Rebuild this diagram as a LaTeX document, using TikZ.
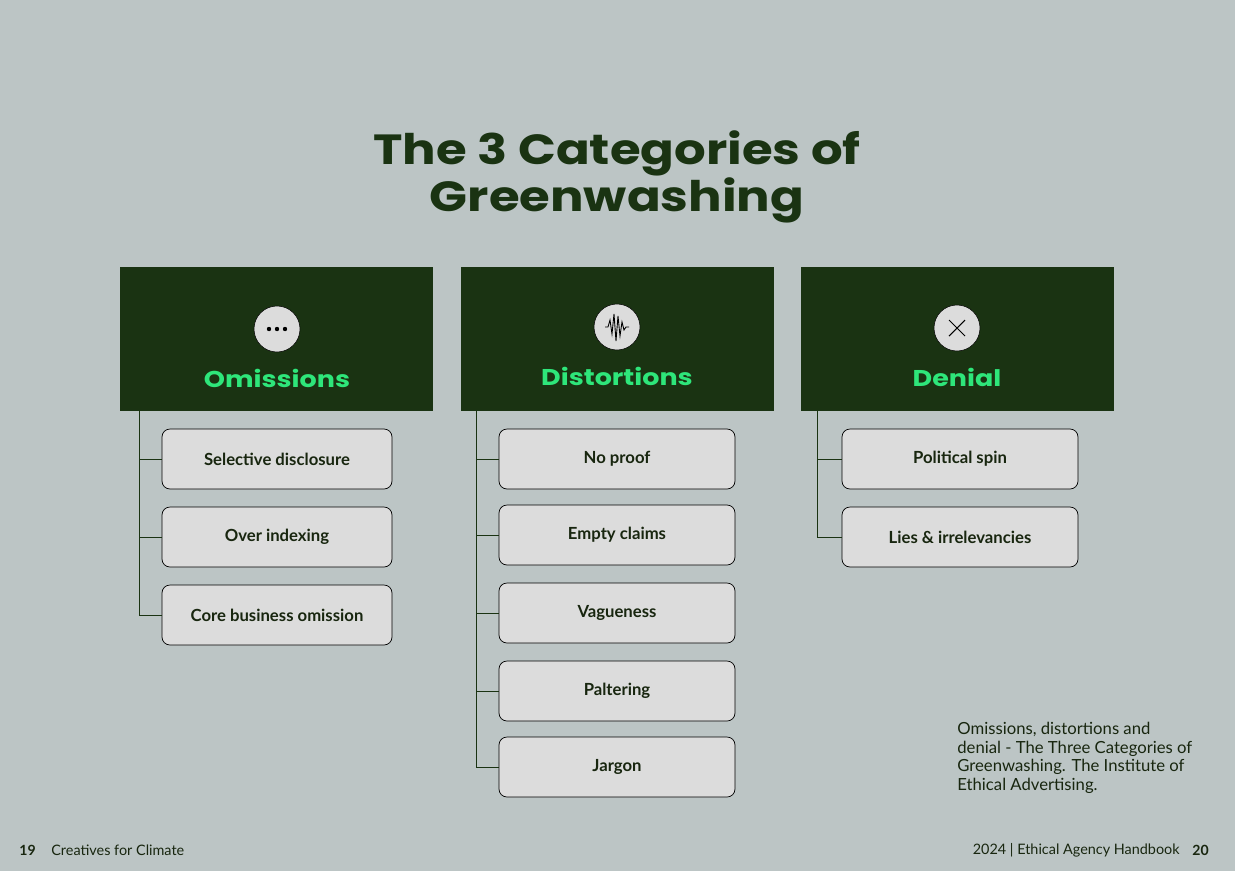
\documentclass[tikz,border=0pt]{standalone}
\usepackage{fontspec}
\usetikzlibrary{calc}
\setmainfont{Poppins}
\newfontfamily\widef[FakeStretch=1.18]{Poppins}
\newfontfamily\bodyf{Lato}
\definecolor{bg}{HTML}{BCC5C5}
\definecolor{dg}{HTML}{1A3312}
\definecolor{bgr}{HTML}{2EE67A}
\definecolor{bx}{HTML}{DCDCDC}
\definecolor{tx}{HTML}{18260F}
\begin{document}
\begin{tikzpicture}[x=0.2mm,y=-0.2mm,
 head/.style={fill=dg,draw=none,minimum width=62.6mm,minimum height=28.8mm,inner sep=0},
 ico/.style={circle,fill=bx,draw=black,line width=0.3pt,minimum size=9.2mm,inner sep=0},
 htext/.style={text=bgr,font=\widef\fontsize{13}{15}\selectfont\bfseries},
 item/.style={rounded corners=1.6mm,fill=bx,draw=black,line width=0.4pt,minimum height=12mm,inner sep=0,text=tx,font=\bodyf\fontsize{9.5}{11}\selectfont\bfseries},
 w1/.style={item,minimum width=46mm},
 w2/.style={item,minimum width=47.2mm},
 conn/.style={draw=dg,line width=0.5pt}]
\fill[bg] (0,0) rectangle (1235,871);
\useasboundingbox (0,0) rectangle (1235,871);
\node[text=dg,align=center,font=\widef\fontsize{24}{24.5}\selectfont\bfseries] (title) at (617,177) {The 3 Categories of\\Greenwashing};
% headers
\node[head] (h1) at (276.5,339) {};
\node[head] (h2) at (617,339) {};
\node[head] (h3) at (957,339) {};
\node[ico] (i1) at (277,329) {};
\node[ico] (i2) at (617,327) {};
\node[ico] (i3) at (957,328) {};
\foreach \dx in {-8,0,8} \fill[black] ($(i1)+(\dx,0)$) circle (2.2);
\draw[black,line width=0.5pt] (605,327) -- (608,327) -- (610,320) -- (612,334) -- (614,314) -- (616,341) -- (618,316) -- (620,336) -- (622,322) -- (624,330) -- (626,327) -- (629,327);
\draw[black,line width=0.6pt] (949,320) -- (965,336) (949,336) -- (965,320);
\node[htext] (t1) at (277,378) {Omissions};
\node[htext] (t2) at (617,376) {Distortions};
\node[htext] (t3) at (957,377) {Denial};
% items
\node[w1] (a1) at (277,459) {Selective disclosure};
\node[w1] (a2) at (277,537) {Over indexing};
\node[w1] (a3) at (277,615) {Core business omission};
\node[w2] (b1) at (617,459) {No proof};
\node[w2] (b2) at (617,535) {Empty claims};
\node[w2] (b3) at (617,613) {Vagueness};
\node[w2] (b4) at (617,691) {Paltering};
\node[w2] (b5) at (617,767) {Jargon};
\node[w2] (c1) at (960,459) {Political spin};
\node[w2] (c2) at (960,537) {Lies \& irrelevancies};
% connectors
\coordinate (r1) at (139,411);
\coordinate (r2) at (476,411);
\coordinate (r3) at (817,411);
\draw[conn] (r1) |- (a3.west);
\draw[conn] (r1|-a1) -- (a1.west);
\draw[conn] (r1|-a2) -- (a2.west);
\draw[conn] (r2) |- (b5.west);
\foreach \n in {b1,b2,b3,b4} \draw[conn] (r2|-\n) -- (\n.west);
\draw[conn] (r3) |- (c2.west);
\draw[conn] (r3|-c1) -- (c1.west);
% caption and footer
\node[anchor=north west,align=left,text=tx,inner sep=0,font=\bodyf\fontsize{9.5}{10.6}\selectfont] (cap) at (957,722) {Omissions, distortions and\\denial - The Three Categories of\\Greenwashing. The Institute of\\Ethical Advertising.};
\node[anchor=west,inner sep=0,text=tx,font=\bodyf\fontsize{8}{9}\selectfont\bfseries] (f1) at (19,850) {19};
\node[anchor=west,inner sep=0,text=tx,font=\bodyf\fontsize{8.2}{9}\selectfont] (f2) at (51,850) {Creatives for Climate};
\node[anchor=east,inner sep=0,text=tx,font=\bodyf\fontsize{8.2}{9}\selectfont] (f3) at (1180,850) {2024 | Ethical Agency Handbook};
\node[anchor=east,inner sep=0,text=tx,font=\bodyf\fontsize{8}{9}\selectfont\bfseries] (f4) at (1209,850) {20};
\end{tikzpicture}
\end{document}
